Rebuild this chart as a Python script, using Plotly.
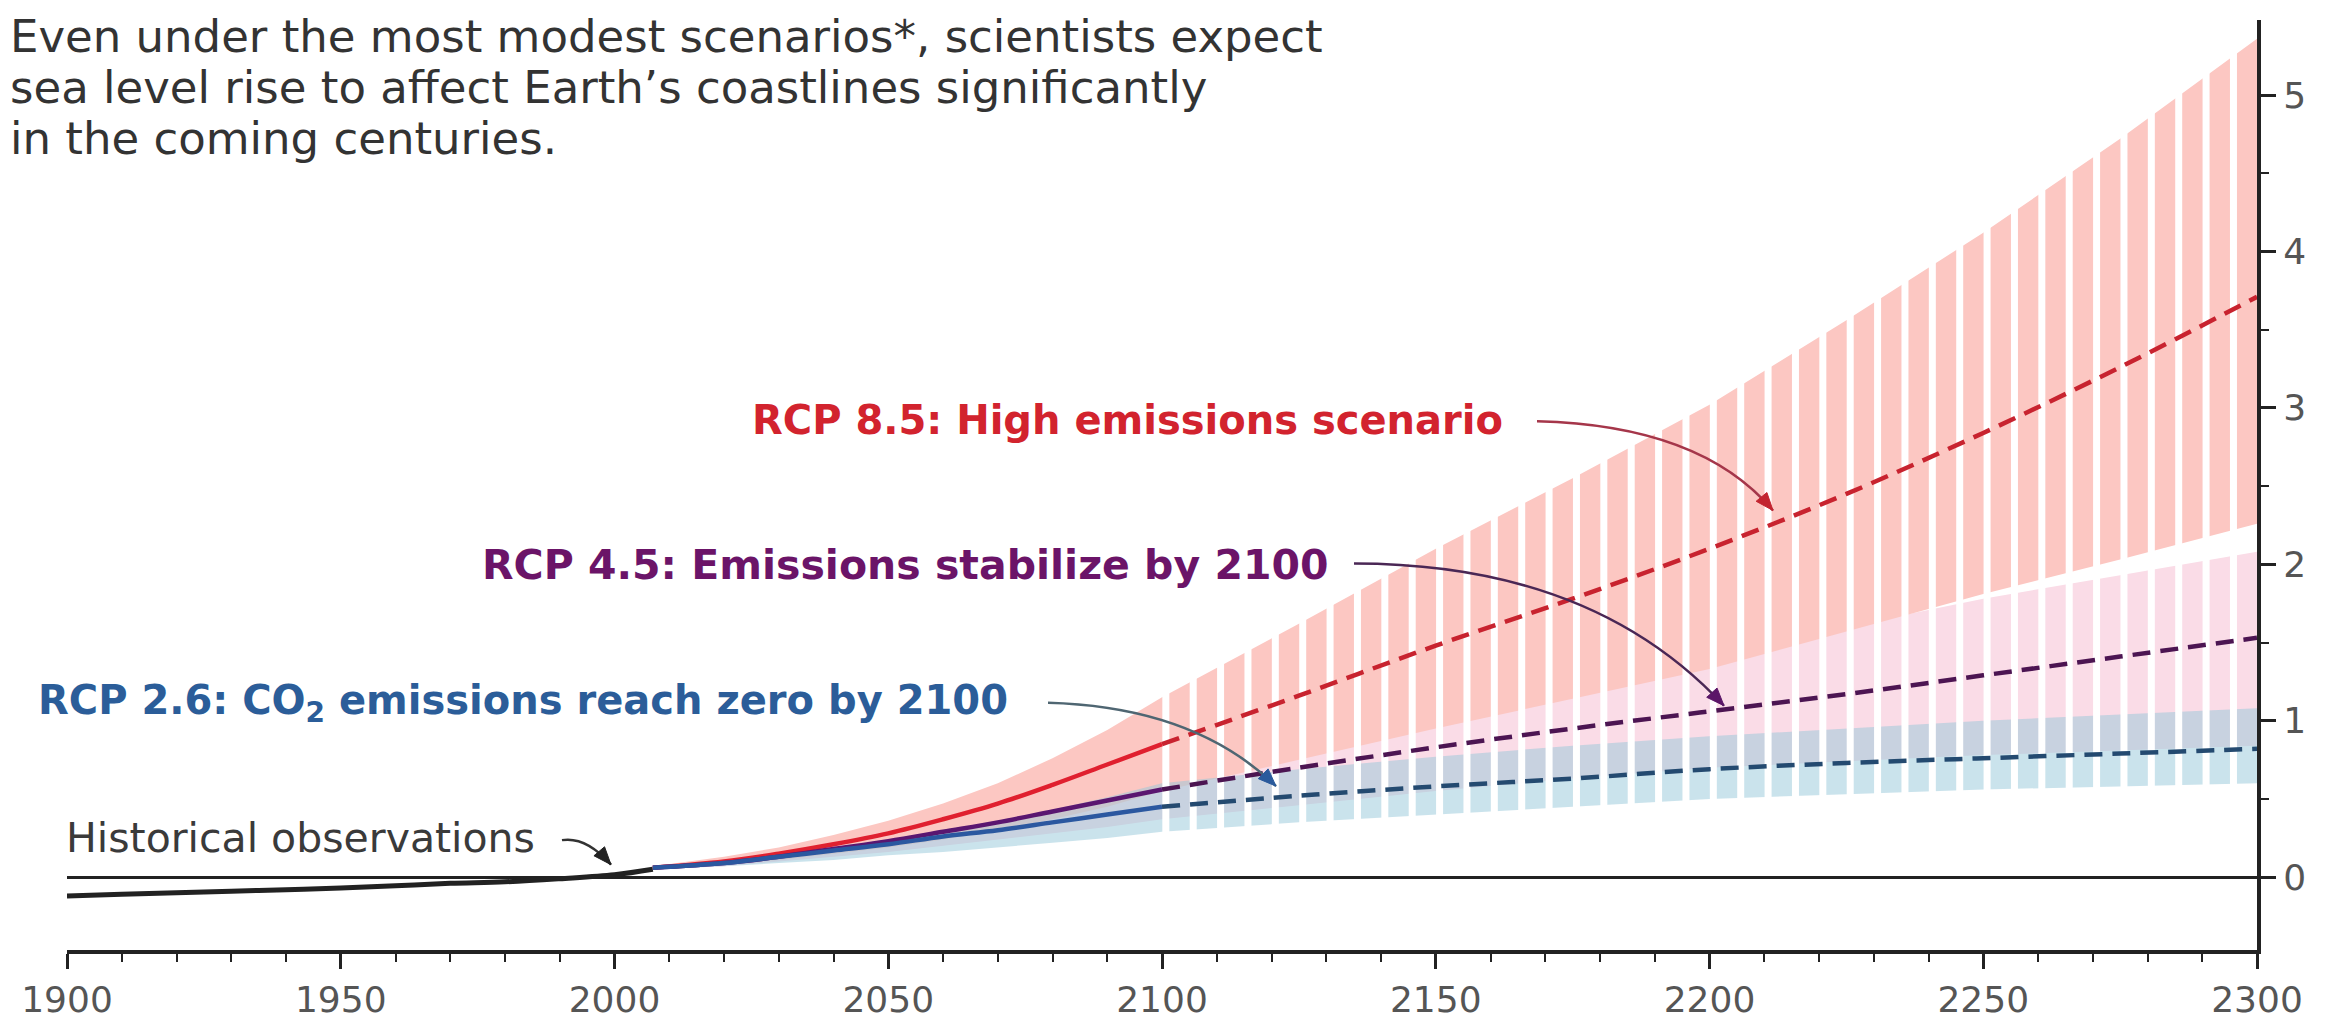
import plotly.graph_objects as go

# ---------------- data ----------------
hist_years = [1900, 1910, 1920, 1930, 1940, 1950, 1960, 1970, 1980, 1990, 2000, 2007]
hist_vals = [-0.12, -0.11, -0.10, -0.09, -0.08, -0.07, -0.055, -0.04, -0.03, -0.01, 0.015, 0.05]

solid_years = [2007, 2020, 2030, 2040, 2050, 2060, 2070, 2080, 2090, 2100]
rcp85_solid = [0.06, 0.10, 0.15, 0.21, 0.28, 0.37, 0.47, 0.59, 0.72, 0.85]
rcp45_solid = [0.06, 0.09, 0.13, 0.18, 0.23, 0.29, 0.35, 0.42, 0.49, 0.56]
rcp26_solid = [0.06, 0.09, 0.13, 0.17, 0.21, 0.26, 0.30, 0.35, 0.40, 0.45]

dash_years = [2100, 2125, 2150, 2175, 2200, 2225, 2250, 2275, 2300]
rcp85_dash = [0.85, 1.16, 1.48, 1.78, 2.10, 2.45, 2.84, 3.26, 3.71]
rcp45_dash = [0.56, 0.70, 0.83, 0.95, 1.06, 1.17, 1.29, 1.41, 1.53]
rcp26_dash = [0.45, 0.52, 0.58, 0.63, 0.69, 0.73, 0.76, 0.79, 0.82]

band_years = [2007, 2020, 2030, 2040, 2050, 2060, 2070, 2080, 2090, 2100,
              2125, 2150, 2175, 2200, 2225, 2250, 2275, 2300]
rcp85_hi = [0.07, 0.13, 0.19, 0.27, 0.36, 0.47, 0.60, 0.76, 0.94, 1.15,
            1.62, 2.10, 2.55, 3.02, 3.56, 4.12, 4.72, 5.36]
rcp85_lo = [0.05, 0.08, 0.11, 0.15, 0.19, 0.24, 0.30, 0.37, 0.45, 0.55,
            0.75, 0.95, 1.14, 1.33, 1.57, 1.81, 2.03, 2.26]
rcp45_hi = [0.07, 0.11, 0.15, 0.20, 0.26, 0.33, 0.41, 0.50, 0.62, 0.76,
            0.93, 1.10, 1.26, 1.42, 1.60, 1.78, 1.93, 2.08]
rcp45_lo = [0.05, 0.07, 0.10, 0.13, 0.16, 0.20, 0.24, 0.28, 0.32, 0.37,
            0.46, 0.55, 0.63, 0.70, 0.74, 0.78, 0.81, 0.84]
rcp26_hi = [0.07, 0.10, 0.14, 0.19, 0.24, 0.30, 0.36, 0.43, 0.51, 0.60,
            0.69, 0.77, 0.84, 0.90, 0.95, 1.00, 1.04, 1.08]
rcp26_lo = [0.05, 0.07, 0.09, 0.11, 0.14, 0.16, 0.19, 0.22, 0.25, 0.29,
            0.35, 0.40, 0.45, 0.50, 0.53, 0.56, 0.58, 0.60]

x_ticks = [1900, 1950, 2000, 2050, 2100, 2150, 2200, 2250, 2300]
y_ticks = [0, 1, 2, 3, 4, 5]

title_lines = ["Even under the most modest scenarios*, scientists expect",
               "sea level rise to affect Earth\u2019s coastlines significantly",
               "in the coming centuries."]

# ---------------- styling ----------------
FONT = "DejaVu Sans"
W, H = 2326, 1024
L, R, T, B = 59, 2249, 12, 960

def px(x):
    return (x - L) / (R - L)

def py(y):
    return (B - y) / (B - T)

fig = go.Figure()

def band(lo, hi, color):
    fig.add_trace(go.Scatter(x=band_years + band_years[::-1], y=hi + lo[::-1],
                             fill="toself", fillcolor=color, mode="lines",
                             line=dict(width=0), hoverinfo="skip"))

band(rcp45_lo, rcp45_hi, "rgb(250,220,231)")
band(rcp85_lo, rcp85_hi, "rgb(252,199,194)")
band(rcp26_lo, rcp26_hi, "rgba(150,200,218,0.5)")

# white gaps that split the post-2100 ranges into stripes
gx, gy = [], []
for k in range(40):
    xg = 2100.7 + 5 * k
    gx += [xg, xg, None]
    gy += [0.12, 5.6, None]
fig.add_trace(go.Scatter(x=gx, y=gy, mode="lines",
                         line=dict(color="#ffffff", width=7), hoverinfo="skip"))

# historical
fig.add_trace(go.Scatter(x=hist_years, y=hist_vals, mode="lines",
                         line=dict(color="#222222", width=5, shape="spline")))

# projections solid
fig.add_trace(go.Scatter(x=solid_years, y=rcp85_solid, mode="lines",
                         line=dict(color="#e0202f", width=4.5, shape="spline")))
fig.add_trace(go.Scatter(x=solid_years, y=rcp45_solid, mode="lines",
                         line=dict(color="#5a1670", width=4.5, shape="spline")))
fig.add_trace(go.Scatter(x=solid_years, y=rcp26_solid, mode="lines",
                         line=dict(color="#2b58a0", width=4.5, shape="spline")))

# projections dashed
for vals, col in [(rcp85_dash, "#c8232f"), (rcp45_dash, "#4c1552"), (rcp26_dash, "#244a70")]:
    fig.add_trace(go.Scatter(x=dash_years, y=vals, mode="lines",
                             line=dict(color=col, width=4.5, dash="18px,10px", shape="spline")))

annotations = []
shapes = []

# title lines
for line, ytop in zip(title_lines, [0, 52, 104]):
    annotations.append(dict(xref="paper", yref="paper", x=px(0), y=py(ytop),
                            xanchor="left", yanchor="top", showarrow=False,
                            text=line, font=dict(family=FONT, size=45, color="#333333")))

labels = [
    ("RCP 8.5: High emissions scenario", 742, 420, "#d2232e", True, 40),
    ("RCP 4.5: Emissions stabilize by 2100", 472, 568, "#6b1468", True, 41),
    ("RCP 2.6: CO<sub>2</sub> emissions reach zero by 2100", 28, 708, "#2b5d99", True, 40),
    ("Historical observations", 56, 846, "#3a3a3a", False, 41),
]
for txt, x0, y0, col, bold, sz in labels:
    t = "<b>" + txt + "</b>" if bold else txt
    annotations.append(dict(xref="paper", yref="paper", x=px(x0), y=py(y0),
                            xanchor="left", yanchor="middle", showarrow=False,
                            text=t, font=dict(family=FONT, size=sz, color=col)))

# curved arrows (pixel geometry) with triangular heads
arrows = [
    ((1529, 421), (1693, 425), (1765, 512), "#a5364a", "#c3242f"),
    ((1346, 566), (1584, 566), (1716, 711), "#4a2755", "#5b1668"),
    ((1040, 708), (1186, 712), (1268, 793), "#4f6672", "#2a5a9c"),
    ((554, 848), (578, 844), (603, 873), "#333333", "#222222"),
]
for p0, c, p2, lc, hc in arrows:
    shapes.append(dict(type="path", xref="paper", yref="paper",
                       path=f"M {px(p0[0])},{py(p0[1])} Q {px(c[0])},{py(c[1])} {px(p2[0])},{py(p2[1])}",
                       line=dict(color=lc, width=2.5)))
    dx, dy = p2[0] - c[0], p2[1] - c[1]
    n = (dx * dx + dy * dy) ** 0.5
    ux, uy = dx / n, dy / n
    hl, hw = 18, 7
    bx, by = p2[0] - ux * hl, p2[1] - uy * hl
    v1 = (bx - uy * hw, by + ux * hw)
    v2 = (bx + uy * hw, by - ux * hw)
    shapes.append(dict(type="path", xref="paper", yref="paper",
                       path=(f"M {px(p2[0])},{py(p2[1])} L {px(v1[0])},{py(v1[1])} "
                             f"L {px(v2[0])},{py(v2[1])} Z"),
                       fillcolor=hc, line=dict(color=hc, width=1)))

fig.update_layout(
    width=W, height=H,
    margin=dict(l=L, r=W - R, t=T, b=H - B, pad=0),
    paper_bgcolor="white", plot_bgcolor="white",
    showlegend=False,
    annotations=annotations, shapes=shapes,
    xaxis=dict(range=[1900, 2300], tickvals=x_ticks, ticks="outside", ticklen=15,
               tickwidth=3, tickcolor="#222", showgrid=False, showline=True,
               linewidth=4, linecolor="#222", zeroline=False,
               tickfont=dict(family=FONT, size=36, color="#555"),
               minor=dict(dtick=10, tick0=1900, ticks="outside", ticklen=8,
                          tickwidth=2, tickcolor="#222", showgrid=False)),
    yaxis=dict(range=[-0.466, 5.48], side="right", tickvals=y_ticks, ticks="outside",
               ticklen=15, tickwidth=3, tickcolor="#222", showgrid=False,
               showline=True, linewidth=4, linecolor="#222",
               zeroline=True, zerolinecolor="#222", zerolinewidth=3,
               tickfont=dict(family=FONT, size=36, color="#555"),
               minor=dict(dtick=0.5, tick0=0, ticks="outside", ticklen=8,
                          tickwidth=2, tickcolor="#222", showgrid=False)),
)

fig.write_html("out.html")
